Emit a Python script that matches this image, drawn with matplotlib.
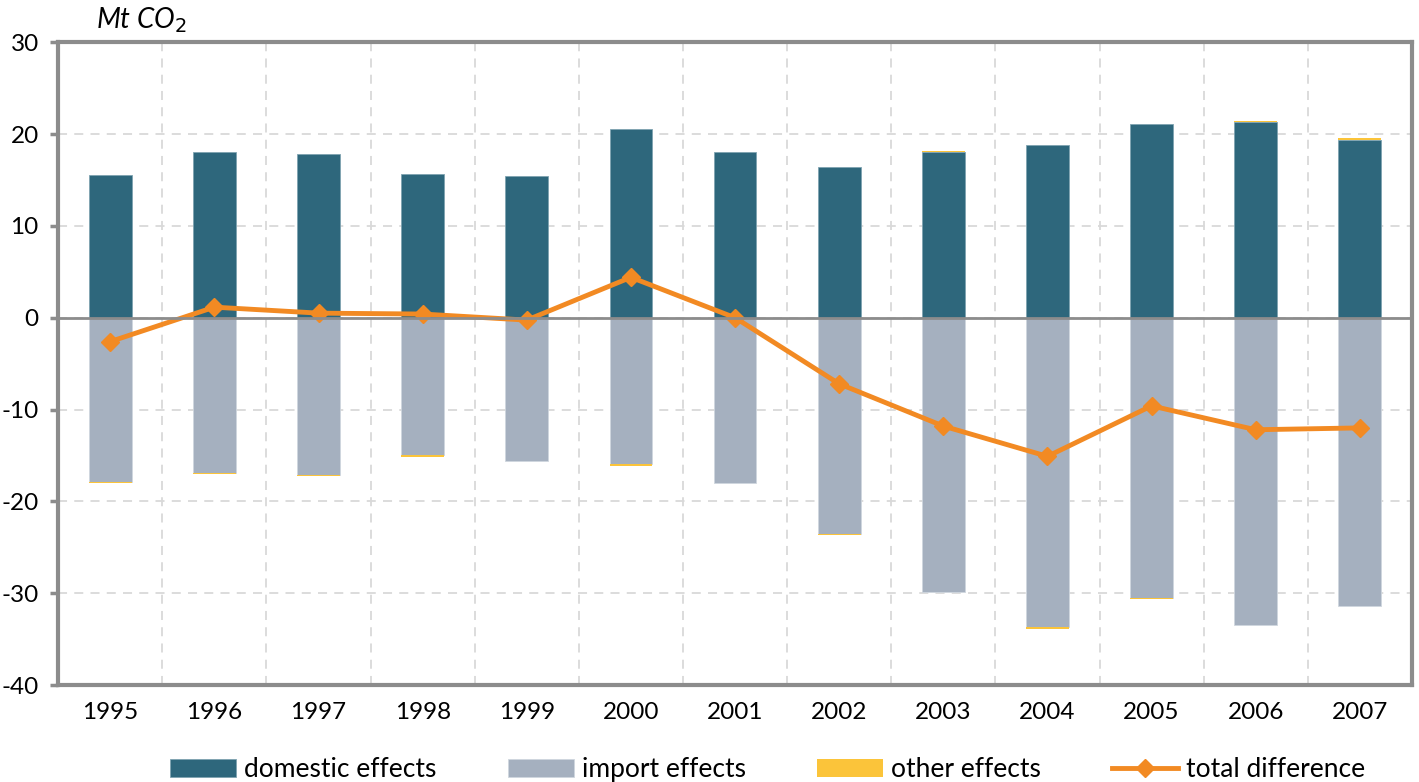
import matplotlib
matplotlib.use("Agg")
import matplotlib.pyplot as plt
import numpy as np

years = ["1995", "1996", "1997", "1998", "1999", "2000", "2001",
         "2002", "2003", "2004", "2005", "2006", "2007"]
domestic = [15.5, 18.1, 17.8, 15.6, 15.4, 20.6, 18.0, 16.4, 18.0, 18.8, 21.1, 21.3, 19.4]
imports = [-17.9, -16.9, -17.1, -15.0, -15.6, -15.9, -18.0, -23.6, -29.9, -33.7, -30.5, -33.5, -31.4]
other = [-0.15, -0.15, -0.15, -0.15, -0.05, -0.3, -0.05, -0.1, 0.15, -0.15, -0.15, 0.15, 0.15]
total = [-2.6, 1.15, 0.5, 0.4, -0.26, 4.4, 0.0, -7.2, -11.8, -15.1, -9.6, -12.2, -12.0]

plt.rcParams['font.family'] = ['Lato', 'DejaVu Sans']
plt.rcParams['axes.unicode_minus'] = False

fig = plt.figure(figsize=(14.19, 7.82), dpi=100)
ax = fig.add_axes([0.041, 0.124, 0.954, 0.822])

x = np.arange(len(years))
w = 0.41
c_dom = "#2e677c"
c_imp = "#a5b0bf"
c_oth = "#fbc43a"
c_tot = "#f28a23"

h_dom = ax.bar(x, domestic, w, color=c_dom, edgecolor="#7fa3b1", linewidth=0.6, zorder=3, label="domestic effects")
h_imp = ax.bar(x, imports, w, color=c_imp, edgecolor="#cfd6de", linewidth=0.6, zorder=3, label="import effects")
oth = np.array(other)
base = np.where(oth >= 0, np.array(domestic), np.array(imports))
h_oth = ax.bar(x, oth, w, bottom=base, color=c_oth, linewidth=0, zorder=3, label="other effects")
h_tot, = ax.plot(x, total, color=c_tot, lw=3.5, marker="D", markersize=9, zorder=4, label="total difference")

ax.set_xlim(-0.5, len(years) - 0.5)
ax.set_ylim(-40, 30)
ax.set_yticks(range(-40, 31, 10))
ax.set_xticks(x)
ax.set_xticklabels(years)
ax.set_xticks(np.arange(-0.5, len(years), 1.0), minor=True)

ax.grid(True, which="major", axis="y", color="#d9d9d9", linestyle=(0, (5, 4)), lw=1.3, zorder=0)
ax.grid(True, which="minor", axis="x", color="#d9d9d9", linestyle=(0, (5, 4)), lw=1.3, zorder=0)
ax.axhline(0, color="#8c8c8c", lw=2, zorder=5)

for s in ax.spines.values():
    s.set_color("#8c8c8c")
    s.set_linewidth(3)

ax.tick_params(axis="x", which="major", length=0, labelsize=17.5, pad=12)
ax.tick_params(axis="x", which="minor", length=0)
ax.tick_params(axis="y", length=6, width=2.5, color="#8c8c8c", labelsize=17.5, pad=8)

fig.text(0.068, 0.974, r"Mt CO$_2$", fontsize=20, style="italic", ha="left", va="center")

fig.legend(handles=[h_dom, h_imp, h_oth, h_tot],
           labels=["domestic effects", "import effects", "other effects", "total difference"],
           loc="lower center", ncol=4, frameon=False,
           fontsize=19, bbox_to_anchor=(0.541, -0.031), handlelength=2.5,
           handletextpad=0.3, columnspacing=2.7)

fig.savefig("out.png", dpi=100)
